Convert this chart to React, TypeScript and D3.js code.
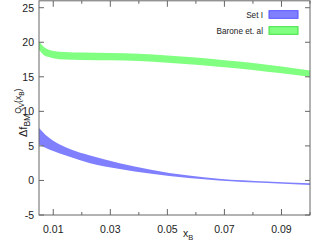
import { useEffect, useRef } from 'react';
import * as d3 from 'd3';

// Set I band
const setIX = [0.005, 0.008, 0.01, 0.0123, 0.016, 0.0229, 0.0333, 0.0438, 0.0575, 0.068, 0.085, 0.1];
const setIHi = [7.6, 6.35, 5.75, 5.2, 4.5, 3.6, 2.5, 1.6, 0.7, 0.25, -0.15, -0.4];
const setILo = [5.2, 4.6, 4.25, 3.9, 3.38, 2.5, 1.65, 1.0, 0.35, 0.0, -0.38, -0.65];

// Barone et. al band
const baroneX = [0.005, 0.0065, 0.008, 0.01, 0.014, 0.02, 0.03, 0.04, 0.05, 0.06, 0.07, 0.08, 0.09, 0.1];
const baroneHi = [20.1, 19.4, 19.0, 18.75, 18.6, 18.5, 18.45, 18.35, 18.1, 17.8, 17.4, 17.0, 16.5, 15.9];
const baroneLo = [18.9, 18.2, 17.9, 17.7, 17.5, 17.45, 17.4, 17.3, 17.05, 16.75, 16.4, 16.0, 15.5, 15.0];

const xMajor = [0.01, 0.03, 0.05, 0.07, 0.09];
const xMinor = [0.02, 0.04, 0.06, 0.08, 0.1];
const yTicks = [-5, 0, 5, 10, 15, 20, 25];

const legend = [
  { label: 'Set I', fill: '#8080ff', stroke: '#5050ff' },
  { label: 'Barone et. al', fill: '#80ff80', stroke: '#40e040' },
];

export default function App() {
  const ref = useRef<SVGSVGElement>(null);
  const width = 311;
  const height = 243;

  useEffect(() => {
    if (!ref.current) return;
    const svg = d3.select(ref.current);
    svg.selectAll('*').remove();

    const left = 39, right = 310, top = 0.8, bottom = 215;
    const font = 'Liberation Sans, Arial, sans-serif';

    const x = d3.scaleLinear().domain([0.005, 0.1]).range([left, right]);
    const y = d3.scaleLinear().domain([-5, 26]).range([bottom, top]);

    const band = (xs: number[], lo: number[], hi: number[]) =>
      d3.area<number>()
        .x((_, i) => x(xs[i]))
        .y0((_, i) => y(lo[i]))
        .y1((_, i) => y(hi[i]))
        .curve(d3.curveMonotoneX)(xs);

    svg.append('path').attr('d', band(baroneX, baroneLo, baroneHi)!)
      .attr('fill', '#80ff80');
    svg.append('path').attr('d', band(setIX, setILo, setIHi)!)
      .attr('fill', '#8080ff');

    // Border
    svg.append('rect')
      .attr('x', left).attr('y', top).attr('width', right - left).attr('height', bottom - top)
      .attr('fill', 'none').attr('stroke', '#666').attr('stroke-width', 1);

    const tick = (x1: number, y1: number, x2: number, y2: number) =>
      svg.append('line').attr('x1', x1).attr('y1', y1).attr('x2', x2).attr('y2', y2)
        .attr('stroke', '#666').attr('stroke-width', 1);

    // x ticks
    xMajor.forEach(v => {
      tick(x(v), bottom, x(v), bottom - 6);
      tick(x(v), top, x(v), top + 6);
      svg.append('text')
        .attr('x', x(v)).attr('y', 233)
        .attr('text-anchor', 'middle')
        .attr('font-size', '10.5px').attr('font-family', font).attr('fill', '#222')
        .text(v.toFixed(2));
    });
    xMinor.forEach(v => {
      tick(x(v), bottom, x(v), bottom - 3);
      tick(x(v), top, x(v), top + 3);
    });

    // y ticks
    yTicks.forEach(v => {
      tick(left, y(v), left + 5, y(v));
      tick(right, y(v), right - 5, y(v));
      svg.append('text')
        .attr('x', 34).attr('y', y(v) + 4)
        .attr('text-anchor', 'end')
        .attr('font-size', '10.5px').attr('font-family', font).attr('fill', '#222')
        .text(v);
    });

    // x label
    const xl = svg.append('text')
      .attr('x', 183).attr('y', 237)
      .attr('font-size', '10.5px').attr('font-family', font).attr('fill', '#222');
    xl.append('tspan').text('x');
    xl.append('tspan').attr('font-size', '7.5px').attr('dy', 3).text('B');

    // y label
    const yl = svg.append('text')
      .attr('transform', 'translate(27,137) rotate(-90)')
      .attr('font-size', '11px').attr('font-family', font).attr('fill', '#222');
    yl.append('tspan').text('Δf');
    yl.append('tspan').attr('font-size', '8.5px').attr('dy', 3).text('BM');
    yl.append('tspan').attr('font-size', '8.5px').attr('dy', -9).text('Q');
    yl.append('tspan').attr('font-size', '6.5px').attr('dy', 2.5).text('V');
    yl.append('tspan').attr('font-size', '8.5px').attr('dy', -2.5).text('(x');
    yl.append('tspan').attr('font-size', '6.5px').attr('dy', 2.5).text('B');
    yl.append('tspan').attr('font-size', '8.5px').attr('dy', -2.5).text(')');

    // Legend
    legend.forEach((l, i) => {
      const cy = 14.5 + i * 16;
      svg.append('rect')
        .attr('x', 269).attr('y', cy - 3.8).attr('width', 29).attr('height', 7.6)
        .attr('fill', l.fill).attr('stroke', l.stroke).attr('stroke-width', 1);
      svg.append('text')
        .attr('x', 263).attr('y', cy + 3)
        .attr('text-anchor', 'end')
        .attr('font-size', '8.2px').attr('font-family', font).attr('fill', '#222')
        .text(l.label);
    });
  }, []);

  return (
    <svg ref={ref} width={width} height={height}
      style={{ position: 'absolute', left: 0, top: 0, background: '#fff' }} />
  );
}
